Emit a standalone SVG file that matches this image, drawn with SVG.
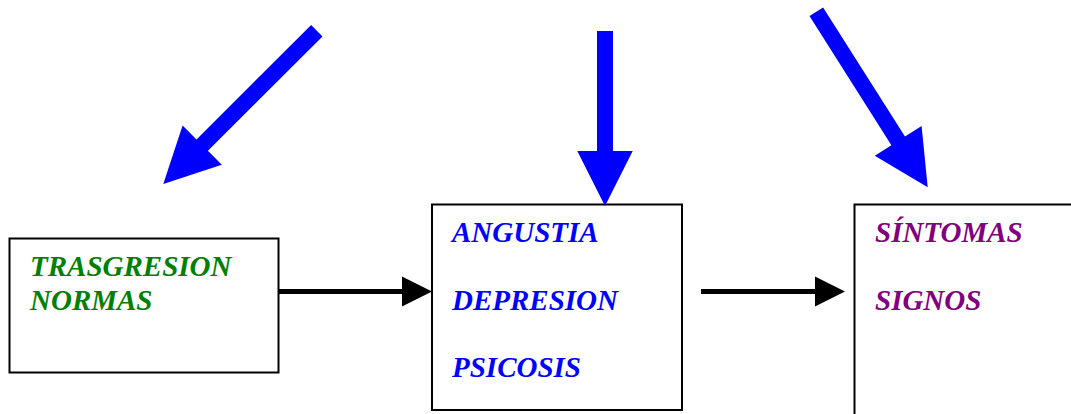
<svg xmlns="http://www.w3.org/2000/svg" width="1071" height="414" viewBox="0 0 1071 414">
<style>
.box{fill:#fff;stroke:#000;stroke-width:2}
.lbl{font-family:"Liberation Serif","Times New Roman",serif;font-weight:bold;font-style:italic;font-size:29px}
.g{fill:#008000}.b{fill:#0000ff}.p{fill:#800080}
.big{fill:#0000ff}
.conn{stroke:#000;stroke-width:5;fill:none}
</style>
<defs>
<marker id="ah" markerUnits="userSpaceOnUse" markerWidth="30" markerHeight="30" refX="0" refY="15" orient="auto" overflow="visible">
<path d="M0,0 L30,15 L0,30 z" fill="#000"/>
</marker>
</defs>
<rect width="1071" height="414" fill="#fff"/>
<g id="node-trasgresion">
<rect class="box" x="9.5" y="238.5" width="269" height="134"/>
<text class="lbl g" x="30" y="276">TRASGRESION</text>
<text class="lbl g" x="30" y="310">NORMAS</text>
</g>
<g id="node-angustia">
<rect class="box" x="432" y="204.5" width="250" height="205.5"/>
<text class="lbl b" x="452" y="242">ANGUSTIA</text>
<text class="lbl b" x="452" y="310">DEPRESION</text>
<text class="lbl b" x="452" y="377">PSICOSIS</text>
</g>
<g id="node-sintomas">
<rect class="box" x="854.5" y="204.5" width="240" height="230"/>
<text class="lbl p" x="875" y="242">SÍNTOMAS</text>
<text class="lbl p" x="875" y="310">SIGNOS</text>
</g>
<g id="connectors">
<line class="conn" x1="279" y1="291.5" x2="402" y2="291.5" marker-end="url(#ah)"/>
<line class="conn" x1="701" y1="291.5" x2="815" y2="291.5" marker-end="url(#ah)"/>
<polygon class="big" points="322.5,36.5 207.9,150.8 221.8,164.7 163.3,184 182.6,125.5 196.5,139.4 311.1,25.1"/>
<polygon class="big" points="597,31 613,31 613,151 632.7,151 605,206 577.3,151 597,151"/>
<polygon class="big" points="809.5,16.1 891.4,145.2 874.8,155.7 927.7,187.3 921.6,126.1 905,136.6 823.1,7.5"/>
</g>
</svg>
